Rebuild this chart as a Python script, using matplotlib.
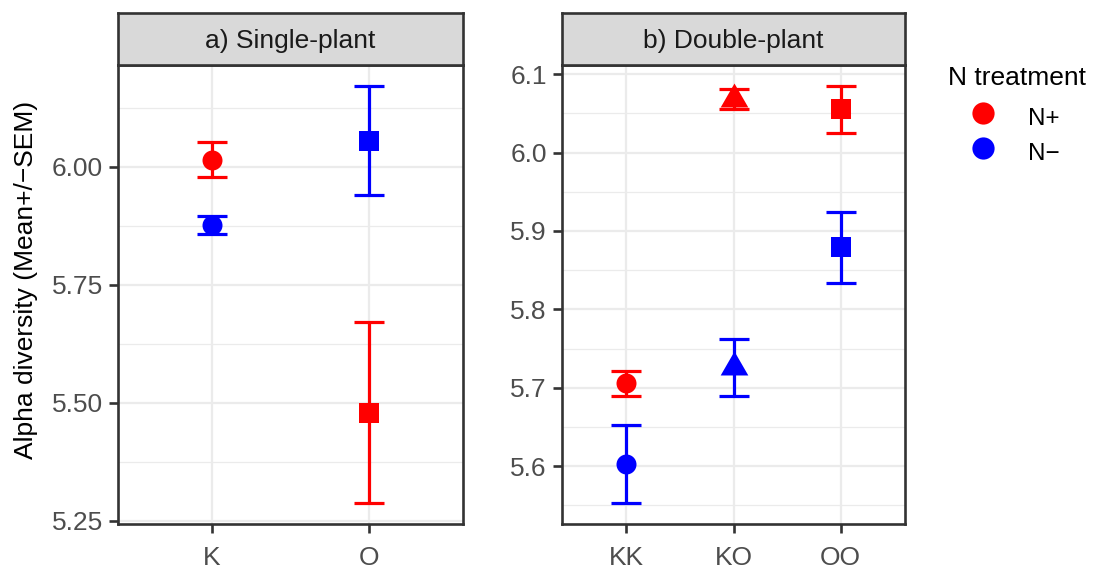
import numpy as np
import matplotlib.pyplot as plt
from matplotlib.lines import Line2D
from matplotlib.ticker import FixedLocator, FormatStrFormatter

plt.rcParams['font.family'] = ['Liberation Sans', 'DejaVu Sans']

# Data: mean and SEM of alpha diversity
single_groups = ['K', 'O']
single_shapes = ['o', 's']
single_np_mean = [6.015, 5.479]
single_np_sem = [0.037, 0.192]
single_nm_mean = [5.877, 6.055]
single_nm_sem = [0.019, 0.116]

double_groups = ['KK', 'KO', 'OO']
double_shapes = ['o', '^', 's']
double_np_mean = [5.706, 6.068, 6.055]
double_np_sem = [0.016, 0.013, 0.030]
double_nm_mean = [5.603, 5.726, 5.879]
double_nm_sem = [0.050, 0.036, 0.045]

treatments = ['N+', 'N\u2212']
colors = ['#FF0000', '#0000FF']

W, H = 1093, 570
fig = plt.figure(figsize=(W / 100, H / 100), dpi=100)

dark = '#333333'
grid_col = '#EBEBEB'

# ggplot-like equilateral triangle
tri = [(0, 1), (-0.866, -0.5), (0.866, -0.5), (0, 1)]
marker_map = {'o': ('o', 14.4), 's': ('s', 14.4), '^': (tri, 23)}


def px_axes(x0, y0, x1, y1):
    return fig.add_axes([x0 / W, 1 - y1 / H, (x1 - x0) / W, (y1 - y0) / H])


def panel(x0, x1, title, groups, shapes, means, sems, major, minor, fmt):
    ax = px_axes(x0, 65, x1, 524)
    xs = np.arange(len(groups))
    for mean, sem, col in zip(means, sems, colors):
        for x, m, s, mk in zip(xs, mean, sem, shapes):
            ax.errorbar(x, m, yerr=s, fmt='none', ecolor=col, elinewidth=2.3,
                        capsize=11, capthick=2.3, zorder=3)
            shape, ms = marker_map[mk]
            ax.plot(x, m, marker=shape, color=col, markersize=ms,
                    markeredgewidth=0, linestyle='none', zorder=4)
    allv = [m - s for mean, sem in zip(means, sems) for m, s in zip(mean, sem)]
    allv += [m + s for mean, sem in zip(means, sems) for m, s in zip(mean, sem)]
    lo, hi = min(allv), max(allv)
    pad = (hi - lo) * 0.05
    ax.set_ylim(lo - pad, hi + pad)
    ax.set_xlim(-0.6, len(groups) - 0.4)
    ax.set_xticks(xs)
    ax.set_xticklabels(groups)
    ax.yaxis.set_major_locator(FixedLocator(major))
    ax.yaxis.set_minor_locator(FixedLocator(minor))
    ax.yaxis.set_major_formatter(FormatStrFormatter(fmt))
    ax.grid(True, which='major', color=grid_col, linewidth=1.6, zorder=0)
    ax.grid(True, which='minor', axis='y', color=grid_col, linewidth=0.9, zorder=0)
    ax.set_axisbelow(True)
    for sp in ax.spines.values():
        sp.set_color(dark)
        sp.set_linewidth(1.9)
    ax.tick_params(which='major', length=6.5, width=1.9, color=dark,
                   labelsize=19, labelcolor='#4D4D4D')
    ax.tick_params(axis='y', pad=4.5)
    ax.tick_params(axis='x', pad=9)
    ax.tick_params(which='minor', length=0)

    st = px_axes(x0, 13, x1, 65)
    st.set_facecolor('#D9D9D9')
    st.set_xticks([])
    st.set_yticks([])
    for sp in st.spines.values():
        sp.set_color(dark)
        sp.set_linewidth(1.9)
    st.text(0.5, 0.47, title, transform=st.transAxes, ha='center', va='center',
            fontsize=19, color='#1A1A1A')
    return ax


panel(118, 463, 'a) Single-plant', single_groups, single_shapes,
      [single_np_mean, single_nm_mean], [single_np_sem, single_nm_sem],
      [5.25, 5.50, 5.75, 6.00], [5.375, 5.625, 5.875, 6.125], '%.2f')
panel(562, 905, 'b) Double-plant', double_groups, double_shapes,
      [double_np_mean, double_nm_mean], [double_np_sem, double_nm_sem],
      [5.6, 5.7, 5.8, 5.9, 6.0, 6.1], [5.55, 5.65, 5.75, 5.85, 5.95, 6.05], '%.1f')

fig.text(26 / W, 1 - 280 / H, 'Alpha diversity (Mean+/\u2212SEM)', rotation=90,
         ha='center', va='center', fontsize=19, color='#000000')

# legend
fig.text(948 / W, 1 - 85 / H, 'N treatment', ha='left', va='baseline',
         fontsize=19, color='#000000')
for i, (lab, col) in enumerate(zip(treatments, colors)):
    yc = 112.5 + 35.5 * i
    fig.add_artist(Line2D([982.5 / W], [1 - yc / H], marker='o', color=col,
                          markersize=16, markeredgewidth=0, linestyle='none',
                          transform=fig.transFigure))
    fig.text(1028 / W, 1 - (yc + 12.5) / H, lab, ha='left', va='baseline',
             fontsize=17.5, color='#000000')

fig.savefig('out.png', dpi=100)
